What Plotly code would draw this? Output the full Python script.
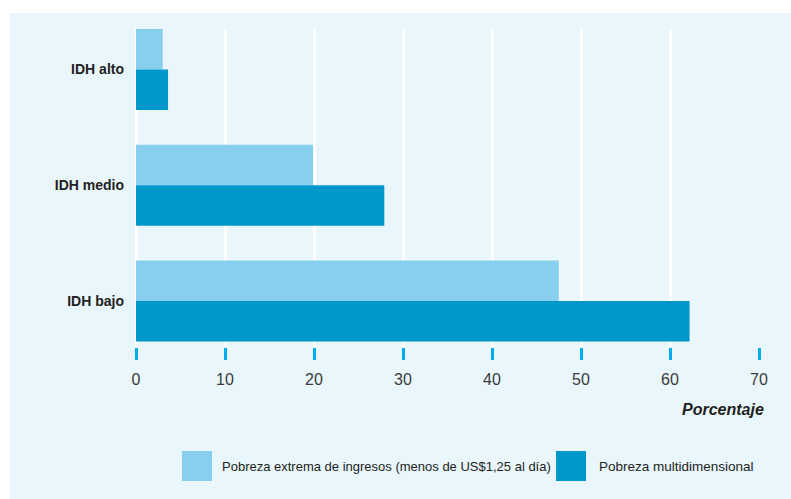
import plotly.graph_objects as go

categories = ["IDH alto", "IDH medio", "IDH bajo"]
series_names = ["Pobreza extrema de ingresos (menos de US$1,25 al día)", "Pobreza multidimensional"]
pobreza_extrema = [3.0, 19.9, 47.5]
pobreza_multi = [3.6, 27.9, 62.2]
x_ticks = [0, 10, 20, 30, 40, 50, 60, 70]
x_title = "Porcentaje"

LIGHT = "#88cfef"
DARK = "#0098ca"
BG = "#e9f6fc"
TICK = "#00aeef"
FONT = "Liberation Sans, Arial, sans-serif"

fig = go.Figure()
fig.add_trace(go.Bar(y=categories, x=pobreza_extrema, orientation="h", name=series_names[0],
                     marker=dict(color=LIGHT, line=dict(width=0))))
fig.add_trace(go.Bar(y=categories, x=pobreza_multi, orientation="h", name=series_names[1],
                     marker=dict(color=DARK, line=dict(width=0))))

L, R, T, B = 136, 32, 29, 152
W, H = 791, 499
pw, ph = W - L - R, H - T - B

def px(x):
    return (x - L) / pw

def py(y):
    return (H - B - y) / ph

shapes = [
    dict(type="rect", xref="paper", yref="paper", x0=px(10), x1=px(800), y0=py(510), y1=py(13),
         fillcolor=BG, line=dict(width=0), layer="below"),
    dict(type="rect", xref="paper", yref="paper", x0=px(182), x1=px(212), y0=py(481), y1=py(451),
         fillcolor=LIGHT, line=dict(width=0)),
    dict(type="rect", xref="paper", yref="paper", x0=px(556), x1=px(586), y0=py(481), y1=py(451),
         fillcolor=DARK, line=dict(width=0)),
]

annotations = [
    dict(text="<b><i>" + x_title + "</i></b>", xref="paper", yref="paper", x=px(766), y=py(409),
         xanchor="right", yanchor="middle", showarrow=False, font=dict(size=16, color="#231f20", family=FONT)),
    dict(text=series_names[0], xref="paper", yref="paper", x=px(220), y=py(466),
         xanchor="left", yanchor="middle", showarrow=False, font=dict(size=13, color="#231f20", family=FONT)),
    dict(text=series_names[1], xref="paper", yref="paper", x=px(597), y=py(466),
         xanchor="left", yanchor="middle", showarrow=False, font=dict(size=13.5, color="#231f20", family=FONT)),
]

fig.update_layout(
    width=W, height=H,
    margin=dict(l=L, r=R, t=T, b=B, pad=0),
    paper_bgcolor="white",
    plot_bgcolor=BG,
    barmode="group",
    bargap=0.3,
    bargroupgap=0,
    showlegend=False,
    shapes=shapes,
    annotations=annotations,
    font=dict(family=FONT, color="#231f20"),
    xaxis=dict(
        range=[0, 70], tickvals=x_ticks, ticktext=[str(v) for v in x_ticks],
        showgrid=True, gridcolor="white", gridwidth=3,
        zeroline=True, zerolinecolor="white", zerolinewidth=3,
        ticks="outside", ticklen=12, tickwidth=3, tickcolor=TICK,
        tickfont=dict(size=16, color="#3a3a3a", family=FONT),
        showline=False, fixedrange=True, ticklabelstandoff=6,
    ),
    yaxis=dict(
        categoryorder="array", categoryarray=categories,
        range=[2.397, -0.35],
        showgrid=False, zeroline=False, showline=False, ticks="",
        tickfont=dict(size=14, color="#231f20", family=FONT),
        ticklabelstandoff=11, fixedrange=True,
        tickprefix="<b>", ticksuffix="</b>",
    ),
)

fig.write_html("out.html", config={"displayModeBar": False},
               post_script="document.body.style.margin='0';document.body.style.padding='0';")
